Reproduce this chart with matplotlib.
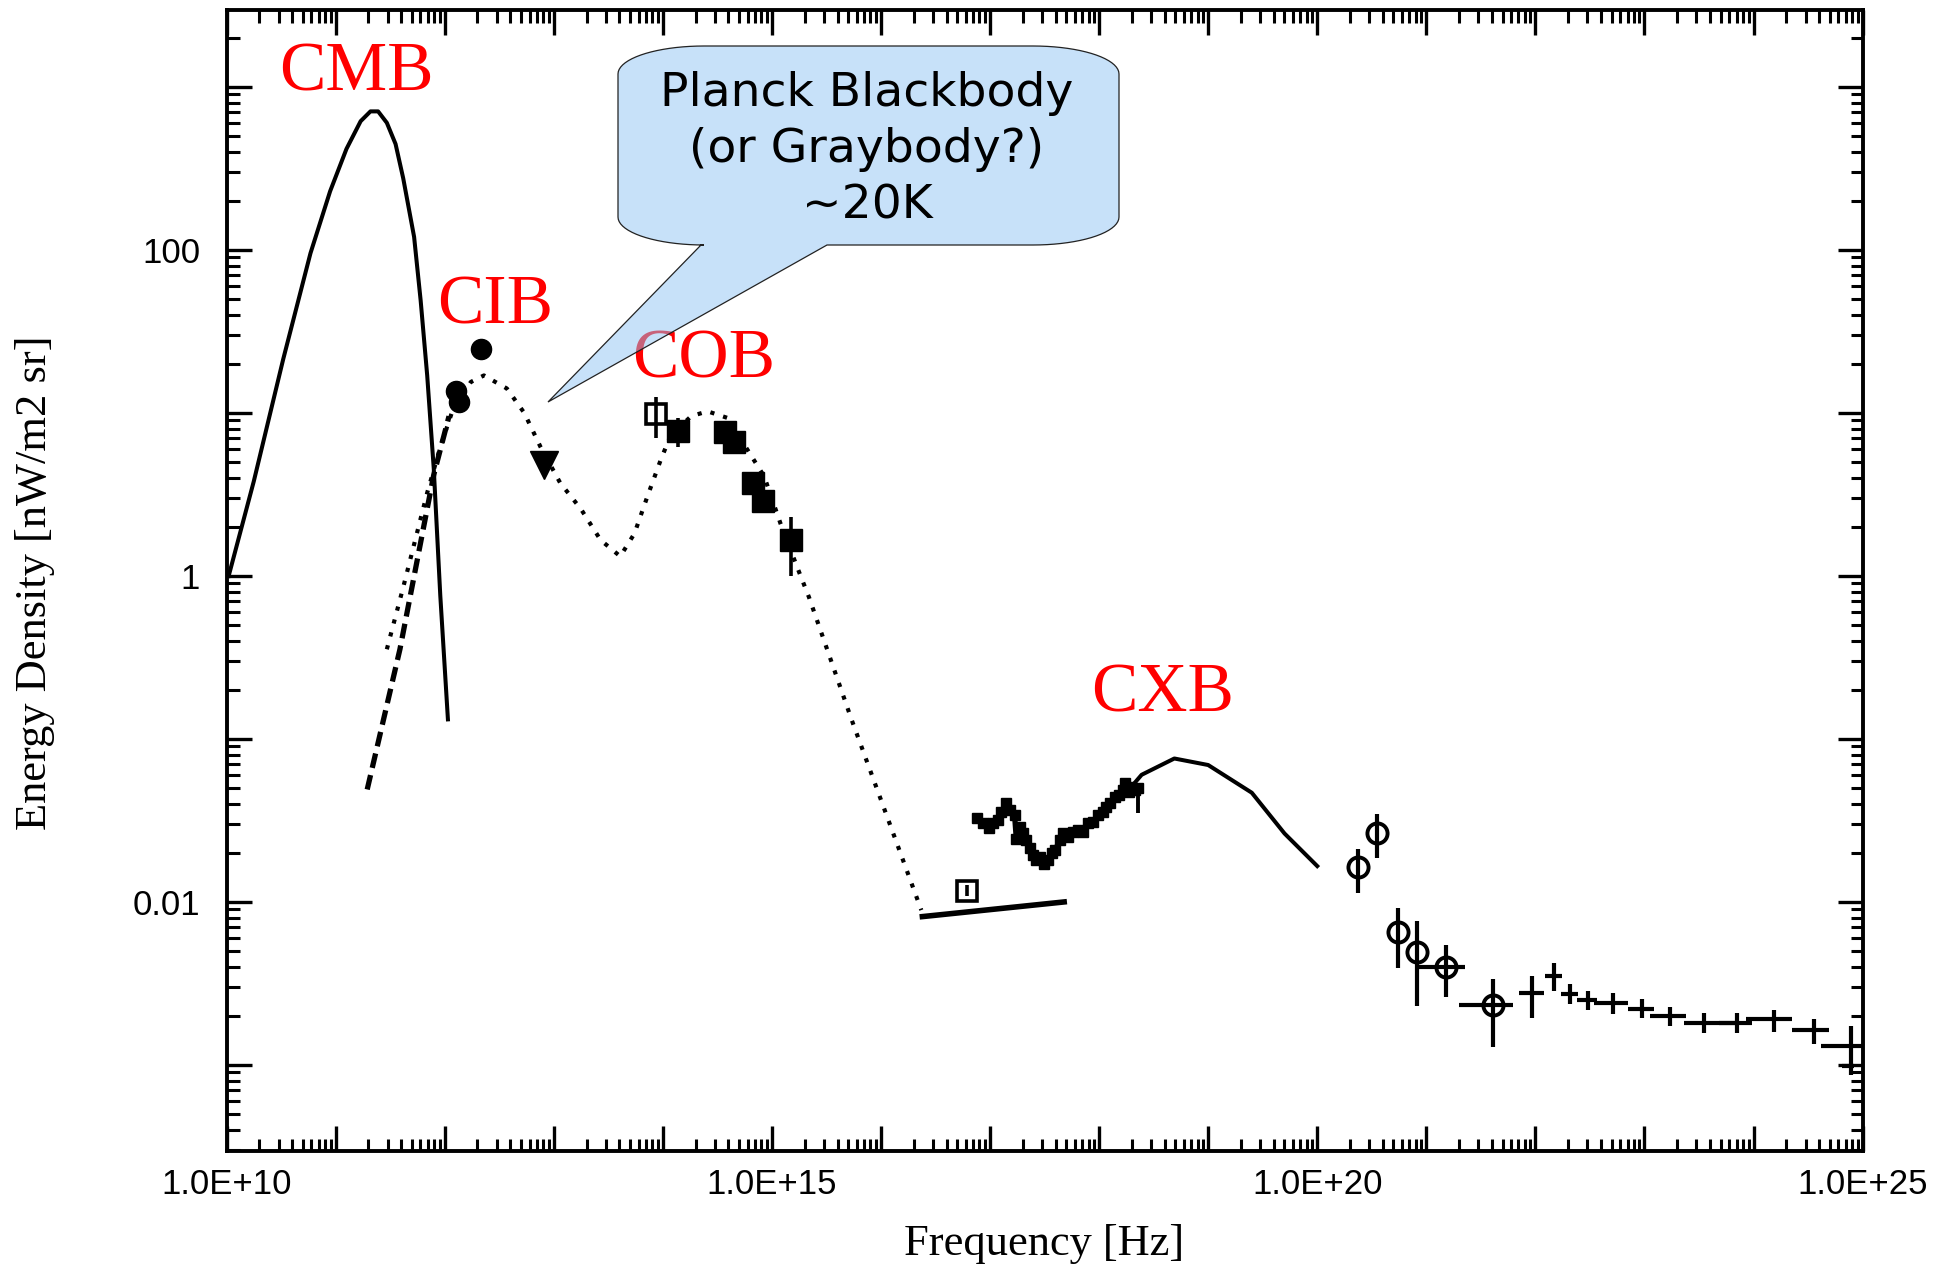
import numpy as np
import matplotlib
matplotlib.use("Agg")
import matplotlib.pyplot as plt
from matplotlib.path import Path
from matplotlib.patches import PathPatch
from matplotlib.ticker import LogLocator, NullFormatter
from matplotlib.transforms import Affine2D

# All values as log10(frequency [Hz]) and log10(energy density [nW/m2 sr])

# CMB black body (solid)
cmb_lognu = [10.02, 10.25, 10.52, 10.77, 10.95, 11.10, 11.23, 11.32, 11.39, 11.47,
             11.55, 11.62, 11.72, 11.78, 11.84, 11.90, 11.96, 12.03]
cmb_logi = [0.00, 0.58, 1.33, 1.98, 2.36, 2.62, 2.79, 2.85, 2.85, 2.78,
            2.65, 2.44, 2.08, 1.69, 1.23, 0.66, -0.12, -0.88]

# far-IR power law (dashed)
fir_lognu = [11.29, 11.59, 11.90, 12.04]
fir_logi = [-1.31, -0.45, 0.62, 0.98]

# CIB / COB model (dotted)
ebl_lognu = [11.47, 11.62, 11.84, 11.96, 12.07, 12.24, 12.36, 12.57, 12.73, 12.88,
             13.06, 13.25, 13.43, 13.61, 13.74, 13.86, 13.98, 14.07, 14.26, 14.41,
             14.59, 14.78, 14.93, 15.08, 15.24, 15.34, 15.73, 16.37]
ebl_logi = [-0.45, -0.07, 0.51, 0.79, 1.01, 1.19, 1.23, 1.15, 1.00, 0.79,
            0.57, 0.41, 0.22, 0.12, 0.26, 0.49, 0.71, 0.86, 0.98, 1.01,
            0.97, 0.77, 0.61, 0.32, 0.04, -0.13, -0.88, -2.05]

# CIB measurements
cib_lognu = [12.33, 12.10, 12.135]
cib_logi = [1.39, 1.135, 1.07]
cib_lim_lognu = [12.91]
cib_lim_logi = [0.68]

# COB measurements
cob_open_lognu = [13.935]
cob_open_logi = [0.994]
cob_open_lo = [0.845]
cob_open_hi = [1.10]
cob_lognu = [14.14, 14.57, 14.65, 14.83, 14.92, 15.18]
cob_logi = [0.89, 0.885, 0.82, 0.57, 0.46, 0.22]
cob_lo = [0.79, 0.86, 0.80, 0.55, 0.44, 0.00]
cob_hi = [0.97, 0.91, 0.84, 0.59, 0.48, 0.36]

# UV background
uv_line_lognu = [16.38, 17.68]
uv_line_logi = [-2.09, -2.00]
uv_pt_lognu = [16.79]
uv_pt_logi = [-1.93]
uv_pt_lo = [-1.965]
uv_pt_hi = [-1.895]

# soft X-ray data (small squares)
sxr_lognu = [16.883, 16.935, 16.987, 17.026, 17.072, 17.103, 17.149, 17.179, 17.225, 17.241,
             17.271, 17.302, 17.332, 17.363, 17.394, 17.424, 17.455, 17.495, 17.531, 17.568,
             17.599, 17.639, 17.669, 17.715, 17.761, 17.807, 17.853, 17.899, 17.945, 17.991,
             18.037, 18.067, 18.098, 18.144, 18.180, 18.220, 18.241, 18.272, 18.297, 18.327,
             18.358]
sxr_logi = [-1.487, -1.513, -1.548, -1.517, -1.497, -1.446, -1.395, -1.436, -1.466, -1.615,
            -1.538, -1.579, -1.620, -1.671, -1.712, -1.742, -1.722, -1.767, -1.742, -1.701,
            -1.681, -1.620, -1.579, -1.599, -1.568, -1.558, -1.568, -1.517, -1.507, -1.466,
            -1.446, -1.415, -1.395, -1.354, -1.343, -1.313, -1.272, -1.323, -1.292, -1.313,
            -1.303]

# CXB model (solid)
cxb_lognu = [18.30, 18.39, 18.69, 19.00, 19.40, 19.70, 20.00]
cxb_logi = [-1.29, -1.22, -1.12, -1.16, -1.33, -1.58, -1.78]

# gamma-ray points with circles
gam_lognu = [20.378, 20.546, 20.739, 20.914, 21.183, 21.612]
gam_logi = [-1.787, -1.579, -2.182, -2.305, -2.397, -2.632]
gam_ylo = [-1.943, -1.732, -2.403, -2.636, -2.581, -2.891]
gam_yhi = [-1.677, -1.462, -2.039, -2.117, -2.264, -2.472]
gam_xlo = [20.378, 20.546, 20.739, 20.914, 20.914, 21.296]
gam_xhi = [20.378, 20.546, 20.739, 20.914, 21.352, 21.792]

# gamma-ray crosses
egb_lognu = [21.97, 22.175, 22.321, 22.484, 22.713, 22.98, 23.23, 23.546, 23.852, 24.189, 24.55, 24.893, 24.87]
egb_logi = [-2.56, -2.454, -2.564, -2.601, -2.622, -2.656, -2.699, -2.74, -2.74, -2.72, -2.785, -2.883, -3.006]
egb_ylo = [-2.714, -2.544, -2.626, -2.663, -2.687, -2.713, -2.761, -2.806, -2.806, -2.796, -2.873, -3.061, -3.006]
egb_yhi = [-2.454, -2.376, -2.503, -2.544, -2.560, -2.597, -2.642, -2.683, -2.683, -2.663, -2.718, -2.761, -3.006]
egb_xlo = [21.847, 22.092, 22.239, 22.383, 22.541, 22.851, 23.047, 23.363, 23.684, 23.928, 24.351, 24.617, 24.815]
egb_xhi = [22.077, 22.245, 22.389, 22.567, 22.851, 23.087, 23.377, 23.852, 23.983, 24.357, 24.688, 25.015, 24.925]

# band labels: text, log nu, log value of baseline
band_names = ["CMB", "CIB", "COB", "CXB"]
band_lognu = [10.48, 11.93, 13.72, 17.93]
band_logi = [2.977, 1.546, 1.219, -0.833]

xtick_pos = [1e10, 1e15, 1e20, 1e25]
xtick_labels = ["1.0E+10", "1.0E+15", "1.0E+20", "1.0E+25"]
ytick_pos = [100, 1, 0.01]
ytick_labels = ["100", "1", "0.01"]

bubble_text = "Planck Blackbody\n(or Graybody?)\n~20K"


def p10(a):
    return np.power(10.0, np.asarray(a, dtype=float))


def err(v, lo, hi):
    v, lo, hi = p10(v), p10(lo), p10(hi)
    return [v - lo, hi - v]


W, H = 1951, 1265
fig = plt.figure(figsize=(W / 100, H / 100), dpi=100)
ax = fig.add_axes([226.5 / W, (H - 1151) / H, (1862.6 - 226.5) / W, (1151 - 10) / H])
ax.set_xscale("log")
ax.set_yscale("log")
ax.set_xlim(1e10, 1e25)
ax.set_ylim(10 ** -3.528, 10 ** 3.472)

k = "black"
ax.plot(p10(cmb_lognu), p10(cmb_logi), color=k, lw=2.9)
ax.plot(p10(fir_lognu), p10(fir_logi), color=k, lw=3.8, dashes=(2.8, 1.4))
ax.plot(p10(ebl_lognu), p10(ebl_logi), color=k, lw=3.0, dashes=(1, 2.2))

ax.plot(p10(cib_lognu), p10(cib_logi), "o", color=k, ms=14.5)
ax.plot(p10(cib_lim_lognu), p10(cib_lim_logi), "v", color=k, ms=20)

ax.errorbar(p10(cob_open_lognu), p10(cob_open_logi), yerr=err(cob_open_logi, cob_open_lo, cob_open_hi),
            fmt="s", ms=15, mfc="none", mec=k, mew=2.6, ecolor=k, elinewidth=2.6, capsize=0)
ax.errorbar(p10(cob_lognu), p10(cob_logi), yerr=err(cob_logi, cob_lo, cob_hi),
            fmt="s", ms=16.5, color=k, ecolor=k, elinewidth=2.6, capsize=0)

ax.plot(p10(uv_line_lognu), p10(uv_line_logi), color=k, lw=4.0)
ax.errorbar(p10(uv_pt_lognu), p10(uv_pt_logi), yerr=err(uv_pt_logi, uv_pt_lo, uv_pt_hi),
            fmt="s", ms=14, mfc="none", mec=k, mew=2.6, ecolor=k, elinewidth=2.6, capsize=0)

ax.plot(p10(sxr_lognu), p10(sxr_logi), "s-", color=k, ms=7.5, lw=3.8)
ax.errorbar(p10(sxr_lognu[-1:]), p10(sxr_logi[-1:]), yerr=err(sxr_logi[-1:], [-1.456], [-1.292]),
            fmt="none", ecolor=k, elinewidth=2.8, capsize=0)
ax.plot(p10(cxb_lognu), p10(cxb_logi), color=k, lw=2.9)

ax.errorbar(p10(gam_lognu), p10(gam_logi), yerr=err(gam_logi, gam_ylo, gam_yhi),
            xerr=err(gam_lognu, gam_xlo, gam_xhi),
            fmt="o", ms=14.5, mfc="none", mec=k, mew=2.8, ecolor=k, elinewidth=3.0, capsize=0)
ax.errorbar(p10(egb_lognu), p10(egb_logi), yerr=err(egb_logi, egb_ylo, egb_yhi),
            xerr=err(egb_lognu, egb_xlo, egb_xhi),
            fmt="none", ecolor=k, elinewidth=3.0, capsize=0)

for name, lx, ly in zip(band_names, band_lognu, band_logi):
    ax.text(10 ** lx, 10 ** ly, name, color="red", fontsize=50, family="Liberation Serif",
            ha="left", va="baseline")

# ticks
ax.set_xticks(p10(np.arange(10, 26)))
ax.set_xticklabels([xtick_labels[xtick_pos.index(10.0 ** e)] if 10.0 ** e in xtick_pos else ""
                    for e in range(10, 26)])
ax.xaxis.set_minor_locator(LogLocator(base=10, subs=np.arange(2, 10), numticks=100))
ax.xaxis.set_minor_formatter(NullFormatter())
ydec = np.arange(-3, 4)
ax.set_yticks(p10(ydec))
lab = dict(zip([round(np.log10(v)) for v in ytick_pos], ytick_labels))
ax.set_yticklabels([lab.get(int(e), "") for e in ydec])
ax.yaxis.set_minor_locator(LogLocator(base=10, subs=np.arange(2, 10), numticks=100))
ax.yaxis.set_minor_formatter(NullFormatter())

ax.tick_params(which="both", direction="in", top=True, right=True, colors=k)
ax.tick_params(which="major", length=18, width=2.4)
ax.tick_params(which="minor", length=9, width=2.2)
ax.tick_params(axis="x", which="major", pad=12)
ax.tick_params(axis="y", which="major", pad=19)
for t in ax.get_xticklabels() + ax.get_yticklabels():
    t.set_fontfamily("Liberation Sans")
    t.set_fontsize(25)
for s in ax.spines.values():
    s.set_linewidth(2.8)

fig.text(1044 / W, 1 - 1244 / H, "Frequency [Hz]", fontsize=32, family="Liberation Serif",
         ha="center", va="center")
fig.text(35 / W, 1 - 583 / H, "Energy Density [nW/m2 sr]", fontsize=32, family="Liberation Serif",
         rotation=90, ha="center", va="center")

# callout bubble, drawn in figure pixels (origin top-left)
px = Affine2D().scale(1 / W, -1 / H).translate(0, 1) + fig.transFigure
x0, x1, y0, y1 = 618, 1119, 46, 245
rx, ry = 86, 28


def arc(cx, cy, a0, a1, n=20):
    t = np.radians(np.linspace(a0, a1, n))
    return list(zip(cx + rx * np.cos(t), cy - ry * np.sin(t)))


verts = []
verts += arc(x1 - rx, y0 + ry, 90, 0)
verts += arc(x1 - rx, y1 - ry, 0, -90)
verts += [(827, y1), (548, 402), (701, y1)]
verts += arc(x0 + rx, y1 - ry, -90, -180)
verts += arc(x0 + rx, y0 + ry, 180, 90)
verts.append(verts[0])
codes = [Path.MOVETO] + [Path.LINETO] * (len(verts) - 2) + [Path.CLOSEPOLY]
bubble = PathPatch(Path(verts, codes), transform=px, facecolor=(0.57, 0.77, 0.96, 0.5),
                   edgecolor="#222222", lw=0.9, zorder=5)
fig.patches.append(bubble)
fig.text(867 / W, 1 - 150 / H, bubble_text, fontsize=34, family="DejaVu Sans",
         ha="center", va="center", linespacing=1.32, zorder=6)

fig.savefig("out.png", dpi=100)
